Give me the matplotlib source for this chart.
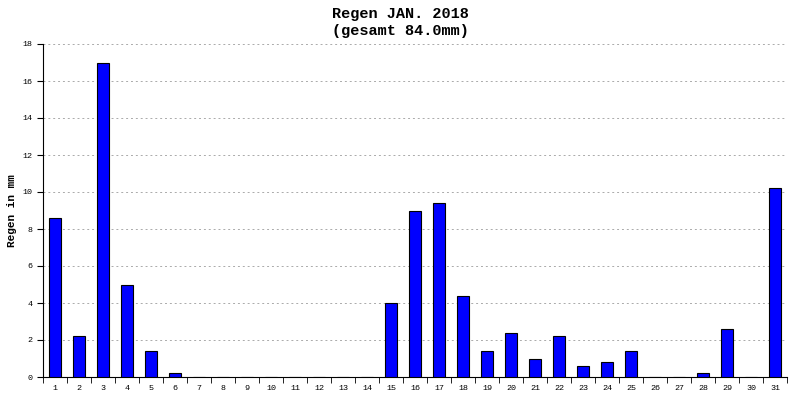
import matplotlib
matplotlib.use("Agg")
import matplotlib.pyplot as plt
import numpy as np

days = [str(d) for d in range(1, 32)]
rain = [8.6, 2.2, 17.0, 5.0, 1.4, 0.2, 0, 0, 0, 0, 0, 0, 0, 0, 4.0, 9.0, 9.4, 4.4,
        1.4, 2.4, 1.0, 2.2, 0.6, 0.8, 1.4, 0, 0, 0.2, 2.6, 0, 10.2]
yticks = [0, 2, 4, 6, 8, 10, 12, 14, 16, 18]

fig = plt.figure(figsize=(8, 4), dpi=100)
ax = fig.add_axes([43/800, 23/400, 744/800, 333/400])
x = np.arange(len(days))
ax.bar(x, rain, width=0.5, color="#0000ff", edgecolor="black", linewidth=0.8, zorder=3)
ax.set_xlim(-0.5, len(days) - 0.5)
ax.set_ylim(0, 18)
ax.set_yticks(yticks)
ax.set_yticklabels([str(v) for v in yticks], fontsize=6, family="Liberation Mono")
ax.set_xticks(x)
ax.set_xticklabels(days, fontsize=6, family="Liberation Mono")
ax.set_xticks(np.arange(len(days) + 1) - 0.5, minor=True)
ax.tick_params(axis="x", which="major", length=0, pad=6)
ax.tick_params(axis="x", which="minor", length=4, direction="out")
ax.tick_params(axis="y", length=4)
ax.grid(axis="y", linestyle=(0, (2, 3)), color="#aaaaaa", linewidth=0.7, zorder=0)
ax.spines["top"].set_visible(False)
ax.spines["right"].set_visible(False)
ax.set_ylabel("Regen in mm", fontsize=8, family="Liberation Mono", fontweight="bold")
fig.text(0.5, 0.965, "Regen JAN. 2018", ha="center", va="center", fontsize=11,
         family="Liberation Mono", fontweight="bold")
fig.text(0.5, 0.922, "(gesamt 84.0mm)", ha="center", va="center", fontsize=11,
         family="Liberation Mono", fontweight="bold")
fig.savefig("out.png", dpi=100, facecolor="white")
